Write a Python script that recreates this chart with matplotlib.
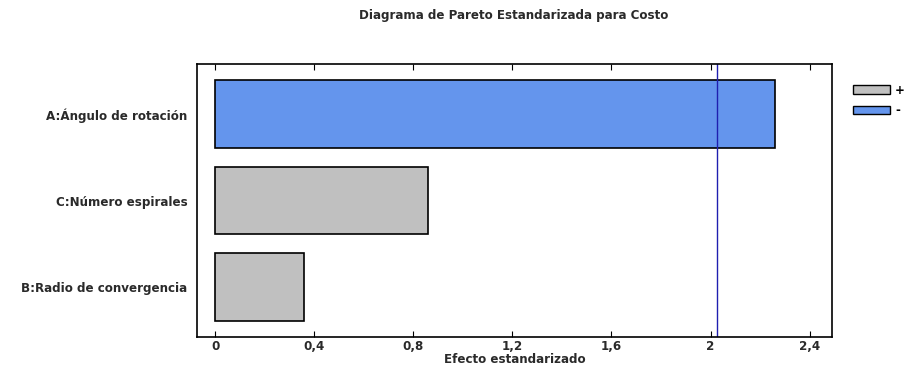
import matplotlib.pyplot as plt
from matplotlib.patches import Patch

plt.rcParams['font.family'] = ['DejaVu Sans']

# Data (bottom to top as drawn)
factors = ["B:Radio de convergencia", "C:Número espirales", "A:Ángulo de rotación"]
effects = [0.36, 0.86, 2.26]
signs = ["+", "+", "-"]
critical = 2.024
xticks = [0, 0.4, 0.8, 1.2, 1.6, 2.0, 2.4]
xticklabels = ["0", "0,4", "0,8", "1,2", "1,6", "2", "2,4"]

pos_color = "#c0c0c0"
neg_color = "#6495ed"
colors = [pos_color if s == "+" else neg_color for s in signs]
txt = "#2a2a2a"
fs = 8.6

fig = plt.figure(figsize=(9.09, 3.76), dpi=100)
ax = fig.add_axes([0.2167, 0.1037, 0.6986, 0.7261])

ax.barh(range(len(factors)), effects, height=0.78, color=colors,
        edgecolor="black", linewidth=1.2)
ax.axvline(critical, color="#1f1fb0", linewidth=1.0)

ax.set_xlim(-0.073, 2.49)
ax.set_ylim(-0.575, 2.575)
ax.set_yticks(range(len(factors)))
ax.set_yticklabels(factors, fontsize=fs, fontweight="bold", color=txt)
ax.tick_params(axis="y", length=0, pad=7)
ax.set_xticks(xticks)
ax.set_xticklabels(xticklabels, fontsize=fs, fontweight="bold", color=txt)
ax.tick_params(axis="x", direction="in", top=True, length=4, pad=2)
ax.set_xlabel("Efecto estandarizado", fontsize=fs, fontweight="bold",
              color=txt, labelpad=0)
for s in ax.spines.values():
    s.set_linewidth(1.2)

fig.text(0.5655, 0.96, "Diagrama de Pareto Estandarizada para Costo",
         ha="center", va="center", fontsize=fs, fontweight="bold", color=txt)

handles = [Patch(facecolor=pos_color, edgecolor="black", label="+"),
           Patch(facecolor=neg_color, edgecolor="black", label="-")]
fig.legend(handles=handles, loc="upper left", bbox_to_anchor=(0.938, 0.777),
           frameon=False, prop={"size": fs, "weight": "bold"},
           handlelength=3.1, handleheight=0.7, handletextpad=0.45,
           labelspacing=0.6, borderpad=0, borderaxespad=0)

fig.savefig("out.png", dpi=100)
